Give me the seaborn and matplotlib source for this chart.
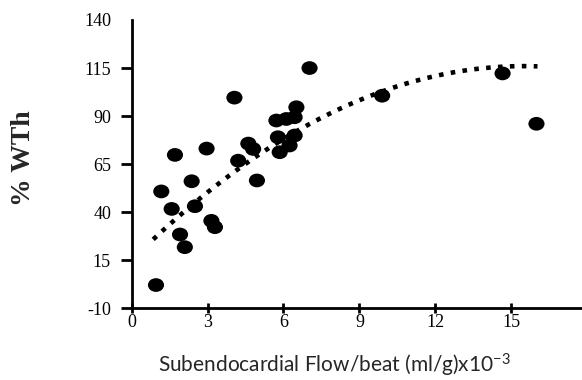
import numpy as np
import pandas as pd
import matplotlib
matplotlib.use("Agg")
import matplotlib.pyplot as plt
from matplotlib.path import Path
from matplotlib.transforms import Affine2D
import seaborn as sns

# --- data ---
flow = [0.96, 1.17, 1.71, 1.58, 1.91, 2.10, 2.37, 2.50, 2.96, 3.15,
        3.29, 4.06, 4.21, 4.61, 4.80, 4.95, 5.72, 6.11, 6.51, 6.44,
        5.78, 6.44, 6.24, 5.85, 7.03, 9.90, 14.66, 16.00]
wth = [2.1, 50.8, 69.8, 41.7, 28.4, 21.8, 56.1, 43.1, 73.1, 35.5,
       32.2, 99.6, 66.8, 75.7, 72.9, 56.5, 87.7, 88.5, 94.6, 89.4,
       79.0, 79.9, 74.7, 71.2, 115.0, 100.6, 112.2, 86.0]
x_ticks = [0, 3, 6, 9, 12, 15]
y_ticks = [-10, 15, 40, 65, 90, 115, 140]

# quadratic trend line as drawn in the figure (c2, c1, c0) and its x span
trend_coef = [-0.42, 13.02, 15.1]
trend_span = [0.85, 16.04]

df = pd.DataFrame({"flow": flow, "wth": wth})
trend_x = np.linspace(trend_span[0], trend_span[1], 200)
trend = pd.DataFrame({"flow": trend_x, "wth": np.polyval(trend_coef, trend_x)})

sns.set_style("ticks")
plt.rcParams["font.family"] = ["Liberation Serif", "DejaVu Serif"]
plt.rcParams["axes.unicode_minus"] = False
plt.rcParams["mathtext.fontset"] = "custom"
plt.rcParams["mathtext.rm"] = "Lato"
plt.rcParams["mathtext.it"] = "Lato:italic"

fig = plt.figure(figsize=(5.82, 3.80), dpi=100)
ax = fig.add_axes([0.2263, 0.1887, 0.7737, 0.7587])

# ellipse marker (a bit wider than tall)
ellipse = Path.unit_circle().transformed(Affine2D().scale(1.0, 0.85))

sns.scatterplot(data=df, x="flow", y="wth", marker=ellipse, s=135,
                color="black", edgecolor="none", ax=ax, zorder=3)
sns.lineplot(data=trend, x="flow", y="wth", ax=ax, color="black", lw=3.3,
             linestyle=(0, (1, 1.6)), dash_capstyle="butt", zorder=4)

ax.set_xlim(0, 17.8)
ax.set_ylim(-10, 140)
ax.set_xticks(x_ticks)
ax.set_yticks(y_ticks)
sns.despine(ax=ax)
for side in ["left", "bottom"]:
    ax.spines[side].set_linewidth(2.0)
    ax.spines[side].set_color("black")

ax.tick_params(axis="x", direction="inout", length=7, width=2.0,
               labelsize=13, pad=0.5, colors="black")
ax.tick_params(axis="y", direction="out", length=7.9, width=2.0,
               labelsize=13, pad=7, colors="black")
ax.yaxis.get_major_ticks()[-1].tick1line.set_visible(False)

ax.set_xlabel("Subendocardial Flow/beat (ml/g)x10$^{-3}$",
              fontsize=15, family="Lato")
ax.xaxis.label.set_va("center")
ax.xaxis.set_label_coords(0.451, -0.197)

ax.set_ylabel("% WTh", fontsize=20, fontweight="bold")
ax.yaxis.label.set_va("center")
ax.yaxis.set_label_coords(-0.241, 0.521)

fig.savefig("out.png", dpi=100)
